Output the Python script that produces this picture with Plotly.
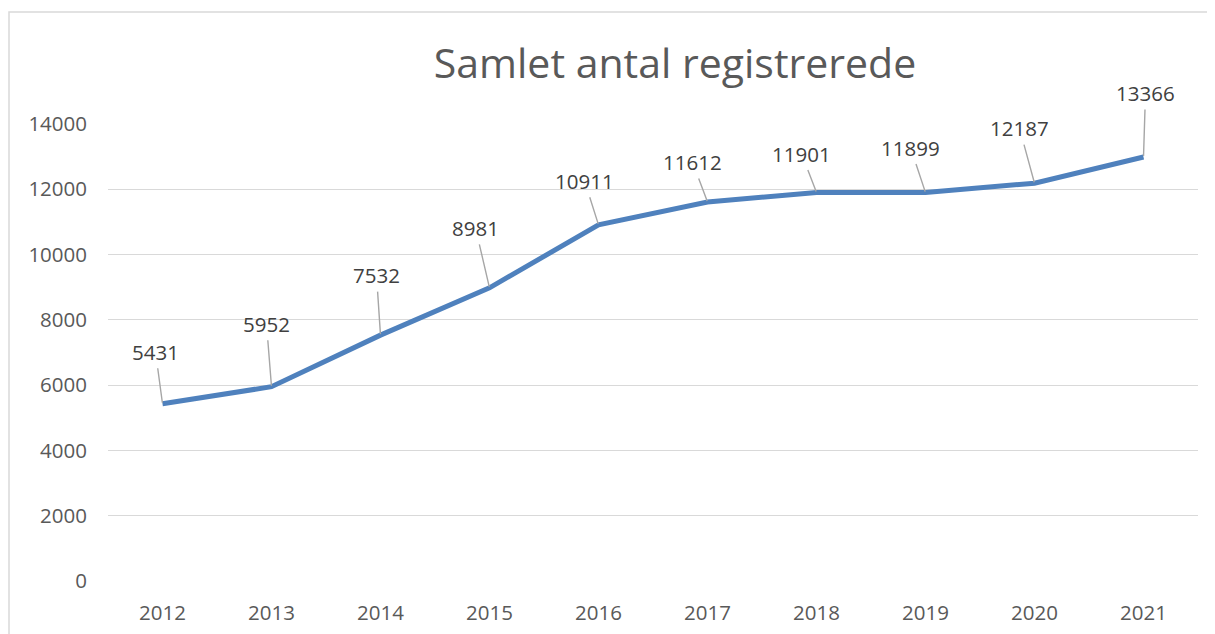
import plotly.graph_objects as go

years = [2012, 2013, 2014, 2015, 2016, 2017, 2018, 2019, 2020, 2021]
plotted_values = [5431, 5952, 7532, 8981, 10911, 11612, 11901, 11899, 12187, 12990]
label_texts = ["5431", "5952", "7532", "8981", "10911", "11612", "11901", "11899", "12187", "13366"]
label_offsets = [(-7, -52), (-5, -63), (-4, -60), (-14, -60), (-14, -44),
                 (-15, -40), (-15, -39), (-15, -45), (-15, -55), (2, -64)]
y_ticks = [0, 2000, 4000, 6000, 8000, 10000, 12000, 14000]

OFF = 8  # page body margin
W, H = 1215 - OFF, 634 - OFF
FONT = "Open Sans"

fig = go.Figure()
fig.add_trace(go.Scatter(
    x=years, y=plotted_values, mode="lines",
    line=dict(color="#4F81BD", width=5),
    hoverinfo="x+y", showlegend=False,
))

for x, y, t, (ax, ay) in zip(years, plotted_values, label_texts, label_offsets):
    fig.add_annotation(
        x=x, y=y, text=t, showarrow=True, arrowhead=0, arrowwidth=1.4,
        arrowcolor="#A6A6A6", ax=ax, ay=ay, standoff=1, startstandoff=0,
        borderpad=2,
        font=dict(family=FONT, size=20.5, color="#404040"),
    )

# chart border
fig.add_shape(type="rect", xref="paper", yref="paper",
              x0=(9 - 108) / (1198 - 108), x1=1.5,
              y0=-0.5, y1=(581 - 12) / (581 - 124),
              line=dict(color="#D9D9D9", width=1.5), fillcolor="rgba(0,0,0,0)",
              layer="below")

fig.update_layout(
    width=W, height=H,
    margin=dict(l=108 - OFF, r=1215 - 1198, t=124 - OFF, b=634 - 581, pad=0, autoexpand=False),
    paper_bgcolor="white", plot_bgcolor="white",
    title=dict(text="Samlet antal registrerede", x=(675 - OFF) / W, xanchor="center",
               xref="container", y=1 - (64 - OFF) / H, yanchor="middle", yref="container",
               font=dict(family=FONT, size=41, color="#595959")),
    xaxis=dict(range=[2011.5, 2021.5], tickvals=years, ticktext=[str(y) for y in years],
               showgrid=False, zeroline=False, showline=False, ticks="",
               tickfont=dict(family=FONT, size=20.5, color="#595959"), ticklabelstandoff=17),
    yaxis=dict(range=[0, 14000], tickvals=y_ticks, ticktext=[str(v) for v in y_ticks],
               showgrid=True, gridcolor="#D9D9D9", gridwidth=1.3, zeroline=False,
               showline=False, ticks="",
               tickfont=dict(family=FONT, size=20.5, color="#595959"), ticklabelstandoff=20),
)

fig.write_html("out.html")
